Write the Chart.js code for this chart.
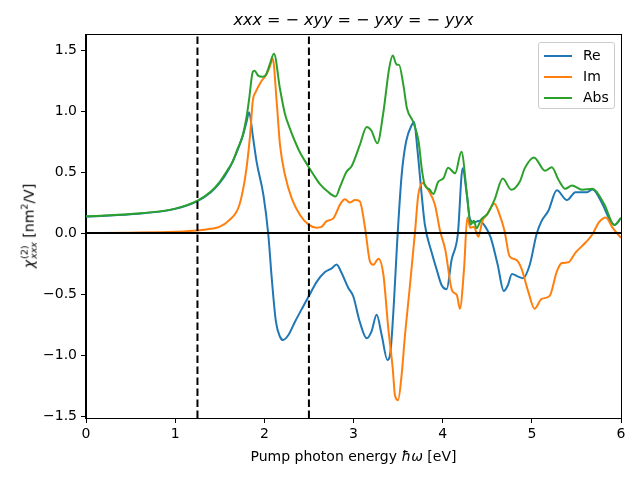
<!DOCTYPE html>
<html lang="en">
<head>
    <meta charset="utf-8">
    <title>chi2 xxx</title>
    <script src="https://cdn.jsdelivr.net/npm/chart.js"></script>
    <style>
        body { margin: 0; background: #fff; }
        #wrap { position: relative; width: 640px; height: 480px; font-family: 'DejaVu Sans', sans-serif; color: #000; }
        #title { position: absolute; left: 86px; width: 535px; top: 10px; text-align: center; font-size: 16px; white-space: nowrap; }
        #xlab { position: absolute; left: 86px; width: 535px; top: 448px; text-align: center; font-size: 14px; white-space: nowrap; }
        #ylab { position: absolute; left: 28px; top: 226px; transform: translate(-50%, -50%) rotate(-90deg); font-size: 14px; white-space: nowrap; }
        .ss { display: inline-flex; flex-direction: column; font-size: 9.5px; line-height: 9px; vertical-align: 6px; margin-left: 1px; }
        #legend { position: absolute; left: 538px; top: 42px; width: 77px; height: 67px; border: 1px solid #cccccc; border-radius: 3px; background: rgba(255,255,255,0.8); box-sizing: border-box; }
        .row { position: absolute; left: 0; height: 20px; font-size: 14px; }
        .row .ln { position: absolute; left: 5px; top: 9px; width: 28px; height: 2px; }
        .row .tx { position: absolute; left: 44px; top: 1px; }
    </style>
</head>
<body>
<div id="wrap">
    <canvas id="chart" width="640" height="480"></canvas>
    <div id="title"><i>xxx</i> = − <i>xyy</i> = − <i>yxy</i> = − <i>yyx</i></div>
    <div id="xlab">Pump photon energy <i>ħω</i> [eV]</div>
    <div id="ylab"><i>χ</i><span class="ss"><span>(2)</span><span><i>xxx</i></span></span> [nm<sup style="font-size:9.5px">2</sup>/V]</div>
    <div id="legend"></div>
</div>
<script>
    const reX = [0, 0.5, 1.0, 1.25, 1.4, 1.5, 1.6, 1.7, 1.76, 1.8, 1.83, 1.87, 1.913, 1.99, 2.045, 2.083, 2.13, 2.176, 2.21, 2.27, 2.344, 2.437, 2.512, 2.587, 2.68, 2.755, 2.81, 2.868, 2.942, 2.998, 3.07, 3.148, 3.2, 3.26, 3.316, 3.38, 3.415, 3.454, 3.49, 3.54, 3.59, 3.653, 3.68, 3.716, 3.765, 3.8, 3.877, 3.933, 3.99, 4.045, 4.1, 4.17, 4.224, 4.27, 4.306, 4.35, 4.41, 4.485, 4.54, 4.617, 4.685, 4.73, 4.777, 4.845, 4.9, 4.977, 5.053, 5.11, 5.186, 5.28, 5.394, 5.49, 5.62, 5.68, 5.79, 5.87, 5.925, 6.0];
    const reY = [0.135, 0.153, 0.198, 0.262, 0.335, 0.41, 0.52, 0.68, 0.8, 0.91, 0.99, 0.8, 0.585, 0.31, -0.016, -0.37, -0.727, -0.85, -0.877, -0.836, -0.727, -0.6, -0.5, -0.4, -0.32, -0.29, -0.257, -0.33, -0.45, -0.52, -0.727, -0.863, -0.81, -0.67, -0.836, -1.04, -0.97, -0.56, -0.07, 0.475, 0.75, 0.885, 0.91, 0.69, 0.31, 0.07, -0.16, -0.3, -0.43, -0.46, -0.22, -0.01, 0.53, 0.32, 0.115, 0.086, 0.1, 0.044, -0.04, -0.26, -0.475, -0.43, -0.336, -0.357, -0.37, -0.26, -0.01, 0.1, 0.183, 0.35, 0.27, 0.335, 0.335, 0.357, 0.24, 0.115, 0.066, 0.12];

    const imX = [0, 0.5, 1.0, 1.25, 1.4, 1.495, 1.607, 1.72, 1.794, 1.84, 1.87, 1.906, 1.963, 2.02, 2.06, 2.094, 2.138, 2.176, 2.232, 2.307, 2.4, 2.493, 2.587, 2.64, 2.7, 2.774, 2.85, 2.905, 2.96, 3.016, 3.07, 3.13, 3.185, 3.222, 3.28, 3.335, 3.39, 3.44, 3.465, 3.5, 3.54, 3.577, 3.633, 3.69, 3.726, 3.776, 3.84, 3.914, 3.97, 4.03, 4.105, 4.16, 4.193, 4.24, 4.276, 4.31, 4.35, 4.4, 4.446, 4.5, 4.58, 4.636, 4.694, 4.75, 4.826, 4.883, 4.96, 5.03, 5.11, 5.2, 5.28, 5.337, 5.41, 5.49, 5.6, 5.68, 5.75, 5.83, 5.905, 6.0];
    const imY = [0.0, 0.003, 0.01, 0.02, 0.035, 0.05, 0.106, 0.23, 0.5, 0.8, 1.08, 1.16, 1.24, 1.295, 1.36, 1.43, 1.08, 0.72, 0.475, 0.284, 0.148, 0.071, 0.044, 0.05, 0.098, 0.12, 0.235, 0.276, 0.25, 0.27, 0.26, 0.04, -0.235, -0.26, -0.21, -0.34, -0.78, -1.11, -1.33, -1.37, -1.16, -0.84, -0.43, 0.01, 0.31, 0.41, 0.35, 0.23, 0.02, -0.14, -0.47, -0.51, -0.62, -0.29, 0.128, 0.044, 0.05, -0.03, 0.1, 0.155, 0.24, 0.155, 0.016, -0.19, -0.22, -0.29, -0.48, -0.62, -0.54, -0.515, -0.316, -0.246, -0.24, -0.16, -0.08, -0.01, 0.086, 0.128, 0.044, -0.04];

    const absX = [0, 0.5, 1.0, 1.25, 1.4, 1.5, 1.6, 1.645, 1.7, 1.757, 1.8, 1.83, 1.87, 1.89, 1.93, 1.98, 2.02, 2.06, 2.108, 2.176, 2.23, 2.29, 2.35, 2.4, 2.49, 2.55, 2.624, 2.71, 2.8, 2.85, 2.92, 2.98, 3.07, 3.148, 3.2, 3.267, 3.335, 3.4, 3.44, 3.484, 3.51, 3.56, 3.6, 3.67, 3.73, 3.765, 3.8, 3.85, 3.895, 3.95, 4.01, 4.06, 4.14, 4.21, 4.276, 4.313, 4.35, 4.38, 4.43, 4.5, 4.58, 4.674, 4.769, 4.864, 4.92, 5.024, 5.148, 5.224, 5.3, 5.375, 5.45, 5.565, 5.68, 5.81, 5.925, 6.0];
    const absY = [0.137, 0.155, 0.2, 0.265, 0.34, 0.42, 0.53, 0.585, 0.69, 0.8, 0.95, 1.1, 1.32, 1.33, 1.29, 1.28, 1.3, 1.38, 1.47, 1.18, 0.98, 0.85, 0.74, 0.66, 0.55, 0.48, 0.4, 0.34, 0.3, 0.38, 0.5, 0.55, 0.72, 0.87, 0.84, 0.735, 0.99, 1.35, 1.455, 1.38, 1.38, 1.21, 1.02, 0.91, 0.75, 0.53, 0.39, 0.36, 0.32, 0.42, 0.45, 0.535, 0.49, 0.667, 0.29, 0.07, 0.1, 0.04, 0.11, 0.155, 0.27, 0.446, 0.355, 0.42, 0.53, 0.62, 0.51, 0.54, 0.435, 0.363, 0.39, 0.355, 0.363, 0.24, 0.066, 0.125];

    const seriesNames = ['Re', 'Im', 'Abs'];
    const seriesColors = ['#1f77b4', '#ff7f0e', '#2ca02c'];
    const markerX = [1.25, 2.5];
    const xTicks = [0, 1, 2, 3, 4, 5, 6];
    const yTicks = [-1.5, -1.0, -0.5, 0.0, 0.5, 1.0, 1.5];
    const xMin = 0, xMax = 6, yMin = -1.516, yMax = 1.623;

    function zip(xs, ys) { return xs.map((x, i) => ({x: x, y: ys[i]})); }

    const curves = [zip(reX, reY), zip(imX, imY), zip(absX, absY)];
    let datasets = curves.map((pts, i) => ({
        label: seriesNames[i],
        data: pts,
        borderColor: seriesColors[i],
        borderWidth: 2,
        cubicInterpolationMode: 'monotone',
        order: 3 - i
    }));
    datasets.push({label: 'zero', data: [{x: xMin, y: 0}, {x: xMax, y: 0}], borderColor: '#000', borderWidth: 2, order: 0});
    markerX.forEach(v => {
        datasets.push({label: 'mark', data: [{x: v, y: yMin}, {x: v, y: yMax}], borderColor: '#000', borderWidth: 2, borderDash: [7.5, 3.5], order: 0});
    });

    // legend box, matplotlib style
    const legend = document.getElementById('legend');
    seriesNames.forEach((n, i) => {
        legend.innerHTML += `<div class="row" style="top:${3 + i * 21}px"><div class="ln" style="background:${seriesColors[i]}"></div><div class="tx">${n}</div></div>`;
    });

    const frame = {
        id: 'frame',
        afterDatasetsDraw(chart) {
            const a = chart.chartArea, ctx = chart.ctx;
            ctx.save();
            ctx.strokeStyle = '#000';
            ctx.lineWidth = 1;
            ctx.strokeRect(Math.round(a.left) - 0.5, Math.round(a.top) - 0.5, Math.round(a.right - a.left) + 1, Math.round(a.bottom - a.top) + 1);
            ctx.restore();
        }
    };

    const fmt = v => (v < 0 ? '−' : '') + Math.abs(v).toFixed(1);

    new Chart(document.getElementById('chart'), {
        type: 'scatter',
        data: {datasets: datasets},
        options: {
            responsive: false,
            animation: false,
            devicePixelRatio: 1,
            showLine: true,
            elements: {point: {radius: 0}, line: {borderJoinStyle: 'round'}},
            layout: {padding: {top: 35, right: 19, left: 0, bottom: 0}},
            plugins: {legend: {display: false}, tooltip: {enabled: false}},
            scales: {
                x: {
                    type: 'linear', min: xMin, max: xMax,
                    afterBuildTicks: s => { s.ticks = xTicks.map(v => ({value: v})); },
                    afterFit: s => { s.height = 62; },
                    grid: {drawOnChartArea: false, drawTicks: true, tickLength: 5, color: '#000'},
                    border: {color: '#000', width: 1},
                    ticks: {color: '#000', font: {family: 'DejaVu Sans', size: 14}, padding: 3, maxRotation: 0,
                        callback: v => String(v)}
                },
                y: {
                    type: 'linear', min: yMin, max: yMax,
                    afterBuildTicks: s => { s.ticks = yTicks.map(v => ({value: v})); },
                    afterFit: s => { s.width = 86; },
                    grid: {drawOnChartArea: false, drawTicks: true, tickLength: 5, color: '#000'},
                    border: {color: '#000', width: 1},
                    ticks: {color: '#000', font: {family: 'DejaVu Sans', size: 14}, padding: 4,
                        callback: v => fmt(v)}
                }
            }
        },
        plugins: [frame]
    });
</script>
</body>
</html>
